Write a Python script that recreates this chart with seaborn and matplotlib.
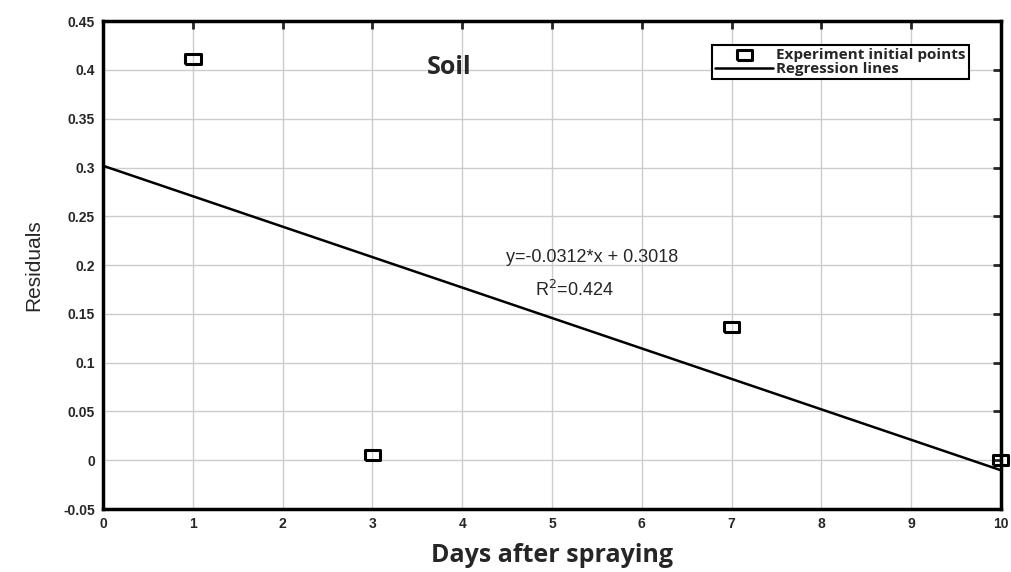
import matplotlib
matplotlib.use("Agg")
import matplotlib.pyplot as plt
import seaborn as sns
import pandas as pd

# dados
days = [1, 3, 7, 10]
residuals = [0.411, 0.005, 0.137, 0.0]
slope = -0.0312
intercept = 0.3018
line_x = [0, 10]
line_y = [intercept + slope * x for x in line_x]
x_ticks = list(range(0, 11))
y_ticks = [-0.05, 0, 0.05, 0.1, 0.15, 0.2, 0.25, 0.3, 0.35, 0.4, 0.45]
y_labels = ["-0.05", "0", "0.05", "0.1", "0.15", "0.2", "0.25", "0.3", "0.35", "0.4", "0.45"]

sns.set_style("white")
plt.rcParams["font.family"] = ["Liberation Sans", "DejaVu Sans"]

pts = pd.DataFrame({"day": days, "res": residuals})
reg = pd.DataFrame({"day": line_x, "res": line_y})

fig = plt.figure(figsize=(10.11, 5.72), dpi=100)
ax = fig.add_axes([0.102, 0.110, 0.888, 0.853])

rect = [(-1.5, -1), (1.5, -1), (1.5, 1), (-1.5, 1), (-1.5, -1)]
sns.lineplot(data=reg, x="day", y="res", ax=ax, color="black", linewidth=1.8,
             label="Regression lines")
sns.scatterplot(data=pts, x="day", y="res", ax=ax, marker=rect, s=120,
                facecolor="none", edgecolor="black", linewidth=2.2,
                label="Experiment initial points", zorder=5, clip_on=False)

ax.set_xlim(0, 10)
ax.set_ylim(-0.05, 0.45)
ax.set_xticks(x_ticks)
ax.set_yticks(y_ticks)
ax.set_yticklabels(y_labels)
ax.grid(True, color="#cccccc", linewidth=1)
ax.tick_params(direction="in", length=6, width=2, top=True, right=True,
               labelsize=10, pad=6)
for lab in ax.get_xticklabels() + ax.get_yticklabels():
    lab.set_fontweight("bold")
for sp in ax.spines.values():
    sp.set_linewidth(2.5)
    sp.set_color("black")

ax.set_xlabel("Days after spraying", fontsize=18, fontweight="bold",
              family=["Open Sans", "DejaVu Sans"], labelpad=8)
ax.set_ylabel("Residuals", fontsize=15, labelpad=14)

ax.text(0.385, 0.905, "Soil", transform=ax.transAxes, fontsize=18,
        fontweight="bold", family=["Open Sans", "DejaVu Sans"], ha="center", va="center")
ax.text(0.545, 0.515, "y=-0.0312*x + 0.3018", transform=ax.transAxes,
        fontsize=13, ha="center", va="center")
ax.text(0.525, 0.45, "R$^2$=0.424", transform=ax.transAxes,
        fontsize=13, ha="center", va="center")

h, l = ax.get_legend_handles_labels()
leg = ax.legend(h[::-1], l[::-1], loc="upper right", bbox_to_anchor=(0.973, 0.967),
                fancybox=False, edgecolor="black", framealpha=1, handlelength=3.8,
                borderpad=0.2, labelspacing=0.0, handletextpad=0.2,
                prop={"weight": "bold", "size": 11, "family": ["Open Sans", "DejaVu Sans"]})
leg.get_frame().set_linewidth(1.5)

fig.savefig("out.png", dpi=100)
